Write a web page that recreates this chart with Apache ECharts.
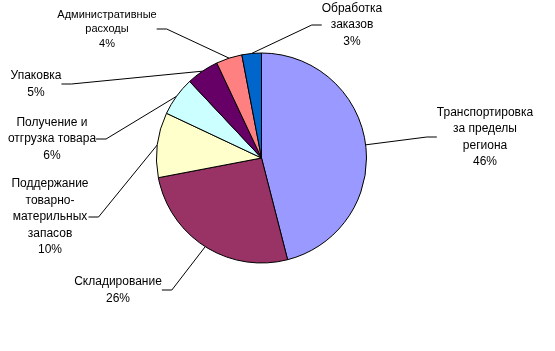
<!DOCTYPE html>
<html><head><meta charset="utf-8">
<script src="https://cdn.jsdelivr.net/npm/echarts@6/dist/echarts.min.js"></script>
<style>html,body{margin:0;padding:0;background:#fff}#c{width:555px;height:351px}</style>
</head><body><div id="c"></div>
<script>
const categories = ['Транспортировка\nза пределы\nрегиона', 'Складирование', 'Поддержание\nтоварно-\nматерильных\nзапасов', 'Получение и\nотгрузка товара', 'Упаковка', 'Административные\nрасходы', 'Обработка\nзаказов'];
const values = [46, 26, 10, 6, 5, 4, 3];
const colors = ['#9999FF', '#993366', '#FFFFCC', '#CCFFFF', '#660066', '#FF8080', '#0066CC'];
const labelPos = [[485, 137], [118, 290], [50, 217], [52, 139], [36, 84], [107, 29], [352, 25]];

const chart = echarts.init(document.getElementById('c'), null, {renderer: 'canvas'});
chart.setOption({
  animation: false,
  backgroundColor: '#fff',
  series: [{
    type: 'pie',
    center: [261.5, 158],
    radius: 105,
    startAngle: 90,
    clockwise: true,
    data: categories.map((n, i) => ({
      name: n, value: values[i],
      itemStyle: {color: colors[i]},
      label: i === 5 ? {fontSize: 11, lineHeight: 14.5} : {}
    })),
    itemStyle: {borderColor: '#000', borderWidth: 1},
    label: {
      show: true,
      formatter: p => p.name + '\n' + p.value + '%',
      color: '#000',
      fontFamily: 'Liberation Sans, Arial',
      fontSize: 12,
      lineHeight: 16.5,
      align: 'center'
    },
    labelLine: {show: true, length: 10, length2: 10, lineStyle: {color: '#000', width: 1}},
    labelLayout: function (p) {
      const pos = labelPos[p.dataIndex];
      return {x: pos[0], y: pos[1], align: 'center', verticalAlign: 'middle'};
    },
    emphasis: {disabled: true}
  }]
});
</script></body></html>
